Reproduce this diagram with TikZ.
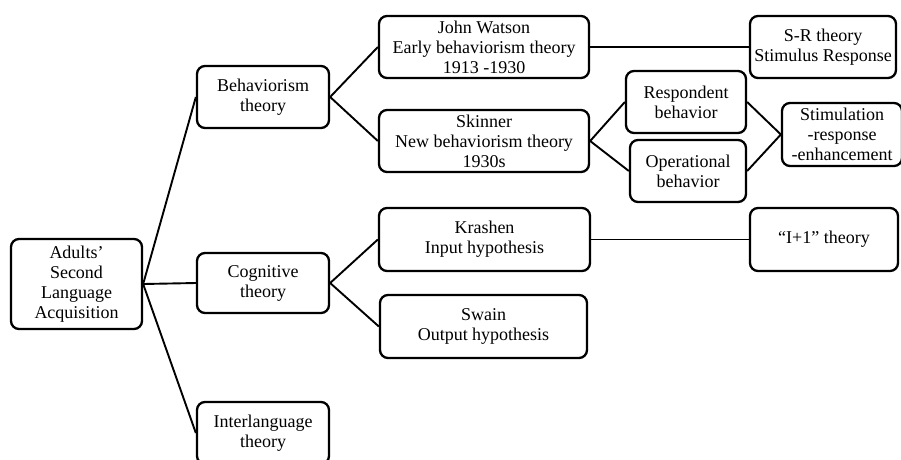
\documentclass[tikz,border=0pt]{standalone}
\usepackage{fontspec}
\setmainfont{Liberation Serif}
\tikzset{
  box/.style={draw, line width=2.3pt, rounded corners=8pt, align=center, inner sep=2pt,
    minimum height=62pt, font=\fontsize{18}{20}\selectfont},
  link/.style={line width=1.9pt}
}

\begin{document}
\begin{tikzpicture}[x=1pt,y=-1pt]
            \useasboundingbox (0,0) rectangle (901,459);
            \node[box, minimum width=131pt, minimum height=90pt] (adults) at (76.5,284) {Adults'\\Second\\Language\\Acquisition};

            \node[box, minimum width=132pt] (behav) at (263,97) {Behaviorism\\theory};
            \node[box, minimum width=132pt, minimum height=60pt] (cogn) at (263,283) {Cognitive\\theory};
            \node[box, minimum width=132pt] (inter) at (263,433) {Interlanguage\\theory};

            \node[box, minimum width=210pt] (watson) at (484,47) {John Watson\\Early behaviorism theory\\1913 -1930};
            \node[box, minimum width=210pt] (skinner) at (484,141) {Skinner\\New behaviorism theory\\1930s};
            \node[box, minimum width=211pt, minimum height=63pt] (krashen) at (484.5,239.5) {Krashen\\Input hypothesis};
            \node[box, minimum width=207pt, minimum height=63pt] (swain) at (483.5,326.5) {Swain\\Output hypothesis};

            \node[box, minimum width=120pt] (resp) at (686,102) {Respondent\\behavior};
            \node[box, minimum width=116pt] (oper) at (688,171) {Operational\\behavior};

            \node[box, minimum width=146pt] (sr) at (823,47) {S-R theory\\Stimulus Response};
            \node[box, minimum width=120pt, minimum height=63pt] (stim) at (842,134.5) {Stimulation\\-response\\-enhancement};
            \node[box, minimum width=148pt, minimum height=63pt] (ione) at (824,239.5) {``I+1'' theory};

            \draw[link] (adults.east) -- (behav.west);
            \draw[link] (adults.east) -- (cogn.west);
            \draw[link] (adults.east) -- (inter.west);
            \draw[link] (behav.east) -- (watson.west);
            \draw[link] (behav.east) -- (skinner.west);
            \draw[link] (cogn.east) -- (krashen.west);
            \draw[link] (cogn.east) -- (swain.west);
            \draw[link] (watson.east) -- (sr.west);
            \draw[link] (skinner.east) -- (resp.west);
            \draw[link] (skinner.east) -- (oper.west);
            \draw[link] (resp.east) -- (stim.west);
            \draw[link] (oper.east) -- (stim.west);
            \draw[link] (krashen.east) -- (ione.west);
        \end{tikzpicture}
\end{document}
